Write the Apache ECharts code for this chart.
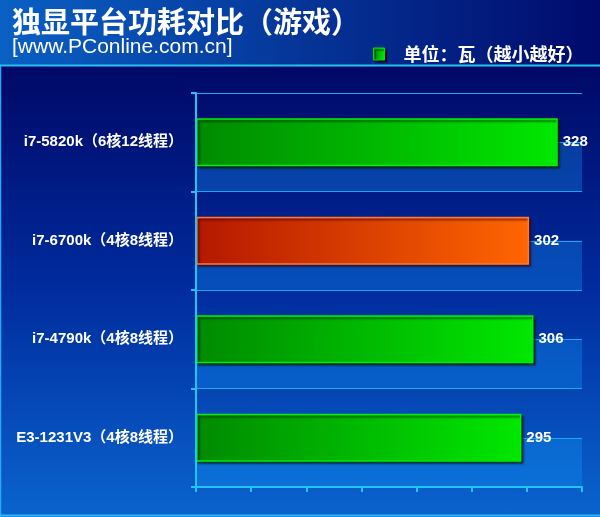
<!DOCTYPE html>
<html>
<head>
<meta charset="utf-8">
<script src="https://cdn.jsdelivr.net/npm/echarts@6/dist/echarts.min.js"></script>
<style>
html,body{margin:0;padding:0;}
#chart{width:600px;height:517px;
background:
 linear-gradient(to right,#0a60c4,#000a6c) 0 0/100% 65px no-repeat,
 linear-gradient(to bottom,#000866 0%,#002c9e 50%,#0a64ce 100%) 0 65px/100% 452px no-repeat;}
</style>
</head>
<body>
<div id="chart"></div>
<script>
// ---- data ----
var titleText = '独显平台功耗对比（游戏）';
var subText = '[www.PConline.com.cn]';
var seriesName = '单位：瓦（越小越好）';
var categories = ['i7-5820k（6核12线程）', 'i7-6700k（4核8线程）', 'i7-4790k（4核8线程）', 'E3-1231V3（4核8线程）'];
var values = [328, 302, 306, 295];
var highlighted = ['i7-6700k（4核8线程）'];
var axisMin = 0, axisMax = 350, axisStep = 50;
var halfBands = ['', '', '', '', '', '', '', ''];

// ---- styles ----
var G = echarts.graphic;
var greenFill = new G.LinearGradient(0, 0, 1, 0, [{offset: 0, color: '#008a00'}, {offset: 1, color: '#00e800'}]);
var orangeFill = new G.LinearGradient(0, 0, 1, 0, [{offset: 0, color: '#b41800'}, {offset: 1, color: '#ff6600'}]);
var cyan = '#22c4f2';
var latin = "'Liberation Sans', 'Noto Sans CJK SC', sans-serif";

var barData = values.map(function (v, i) {
  var hot = highlighted.indexOf(categories[i]) >= 0;
  return {
    value: v,
    itemStyle: hot ? {color: orangeFill, borderColor: '#ff7a36', borderWidth: 1.5,
      shadowColor: 'rgba(60,0,0,0.7)', shadowOffsetX: 2, shadowOffsetY: 2, shadowBlur: 2} : undefined
  };
});

var chart = echarts.init(document.getElementById('chart'), null, {renderer: 'canvas'});
chart.setOption({
  backgroundColor: 'transparent',
  animation: false,
  title: [
    {text: titleText, left: 12, top: 7, padding: 0,
      textStyle: {color: '#fff', fontSize: 29, fontWeight: 'bold', fontFamily: "'Noto Sans CJK SC', sans-serif"}},
    {text: subText, left: 12, top: 37, padding: 0,
      textStyle: {color: '#fff', fontSize: 21, fontWeight: 'normal', fontFamily: latin}}
  ],
  legend: {
    left: 373, top: 45, padding: 0,
    itemWidth: 11, itemHeight: 12, icon: 'rect',
    data: [{name: seriesName, itemStyle: {color: greenFill, borderColor: '#00e000', borderWidth: 1,
      shadowColor: 'rgba(0,0,0,0.7)', shadowOffsetX: 2, shadowOffsetY: 2, shadowBlur: 1}}],
    textStyle: {color: '#fff', fontSize: 18, fontWeight: 'bold', fontFamily: "'Noto Sans CJK SC', sans-serif",
      padding: [0, 0, 0, 14]}
  },
  graphic: [
    {type: 'line', shape: {x1: 0, y1: 65.5, x2: 600, y2: 65.5}, style: {stroke: cyan, lineWidth: 2}, z: 100},
    {type: 'line', shape: {x1: 0.5, y1: 66, x2: 0.5, y2: 517}, style: {stroke: '#2aa8f0', lineWidth: 1.5}, z: 100},
    {type: 'line', shape: {x1: 0, y1: 515.5, x2: 600, y2: 515.5}, style: {stroke: '#2ab8f4', lineWidth: 2}, z: 100}
  ],
  grid: {left: 196, top: 93, right: 18, bottom: 30, containLabel: false},
  xAxis: {
    type: 'value', min: axisMin, max: axisMax, interval: axisStep,
    axisLine: {show: true, lineStyle: {color: cyan, width: 2}},
    axisTick: {show: true, length: 5, lineStyle: {color: cyan, width: 2}},
    axisLabel: {show: false},
    splitLine: {show: false}
  },
  yAxis: [
    {
      type: 'category', data: categories, inverse: true,
      axisLine: {show: true, lineStyle: {color: cyan, width: 2}},
      axisTick: {show: true, length: 5, lineStyle: {color: cyan, width: 2}},
      axisLabel: {color: '#fff', fontSize: 15, fontWeight: 'bold', fontFamily: latin, margin: 13},
      splitLine: {show: false}, z: 5
    },
    {
      type: 'category', data: halfBands, inverse: true, position: 'right',
      axisLine: {show: false}, axisTick: {show: false}, axisLabel: {show: false},
      splitLine: {show: true, lineStyle: {color: '#1ca6ee', width: 1.2}},
      splitArea: {show: true, areaStyle: {color: ['rgba(0,0,0,0)', 'rgba(20,160,255,0.3)']}}
    }
  ],
  series: [{
    name: seriesName, type: 'bar', yAxisIndex: 0, barWidth: 48,
    data: barData,
    itemStyle: {color: greenFill, borderColor: '#00f000', borderWidth: 1.5,
      shadowColor: 'rgba(0,30,0,0.7)', shadowOffsetX: 2, shadowOffsetY: 2, shadowBlur: 2},
    label: {show: true, position: 'right', distance: 5, color: '#fff', fontSize: 15, fontWeight: 'bold', fontFamily: latin},
    z: 3
  }]
});
</script>
</body>
</html>
